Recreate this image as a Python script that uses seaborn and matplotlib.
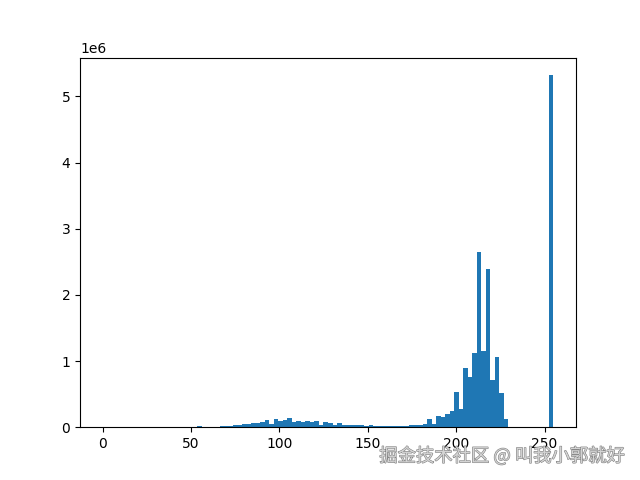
import numpy as np
import pandas as pd
import matplotlib
matplotlib.use('Agg')
import matplotlib.pyplot as plt
import matplotlib.patheffects as pe
import seaborn as sns

# pixel value histogram, 100 bins over 0..255 (counts in millions)
n_bins = 100
lo, hi = 0, 255
counts_m = [0.0] * 21 + [
    0.012, 0.003, 0.008, 0.010, 0.010, 0.012, 0.025, 0.025, 0.030, 0.030,   # 21-30
    0.050, 0.045, 0.060, 0.065, 0.075, 0.110, 0.050, 0.125, 0.090, 0.110,   # 31-40
    0.140, 0.085, 0.090, 0.085, 0.090, 0.085, 0.100, 0.035, 0.085, 0.065,   # 41-50
    0.040, 0.070, 0.040, 0.035, 0.040, 0.030, 0.040, 0.025, 0.035, 0.020,   # 51-60
    0.025, 0.020, 0.020, 0.015, 0.020, 0.015, 0.020, 0.030, 0.035, 0.040,   # 61-70
    0.050, 0.120, 0.050, 0.170, 0.150, 0.200, 0.240, 0.530, 0.270, 0.900,   # 71-80
    0.760, 1.120, 2.650, 1.150, 2.390, 0.710, 1.060, 0.520, 0.130, 0.0,     # 81-90
] + [0.0] * 8 + [5.32]
watermark = "掘金技术社区 @ 叫我小郭就好"

edges = np.linspace(lo, hi, n_bins + 1)
centers = (edges[:-1] + edges[1:]) / 2
df = pd.DataFrame({'value': centers, 'count': np.array(counts_m) * 1e6})

fig, ax = plt.subplots(figsize=(6.4, 4.8), dpi=100)
sns.histplot(data=df, x='value', weights='count', bins=n_bins, binrange=(lo, hi),
             ax=ax, color='#1f77b4', alpha=1, linewidth=0, edgecolor='none')
ax.set_xlabel('')
ax.set_ylabel('')
ax.margins(x=0.05)

fig.text(0.977, 0.05, watermark, ha='right', va='center', fontsize=13.2,
         color='#d4d4d4', family=['Noto Sans CJK SC', 'DejaVu Sans'],
         path_effects=[pe.withStroke(linewidth=0.8, foreground='#808080')])

plt.savefig('out.png')
plt.close()
